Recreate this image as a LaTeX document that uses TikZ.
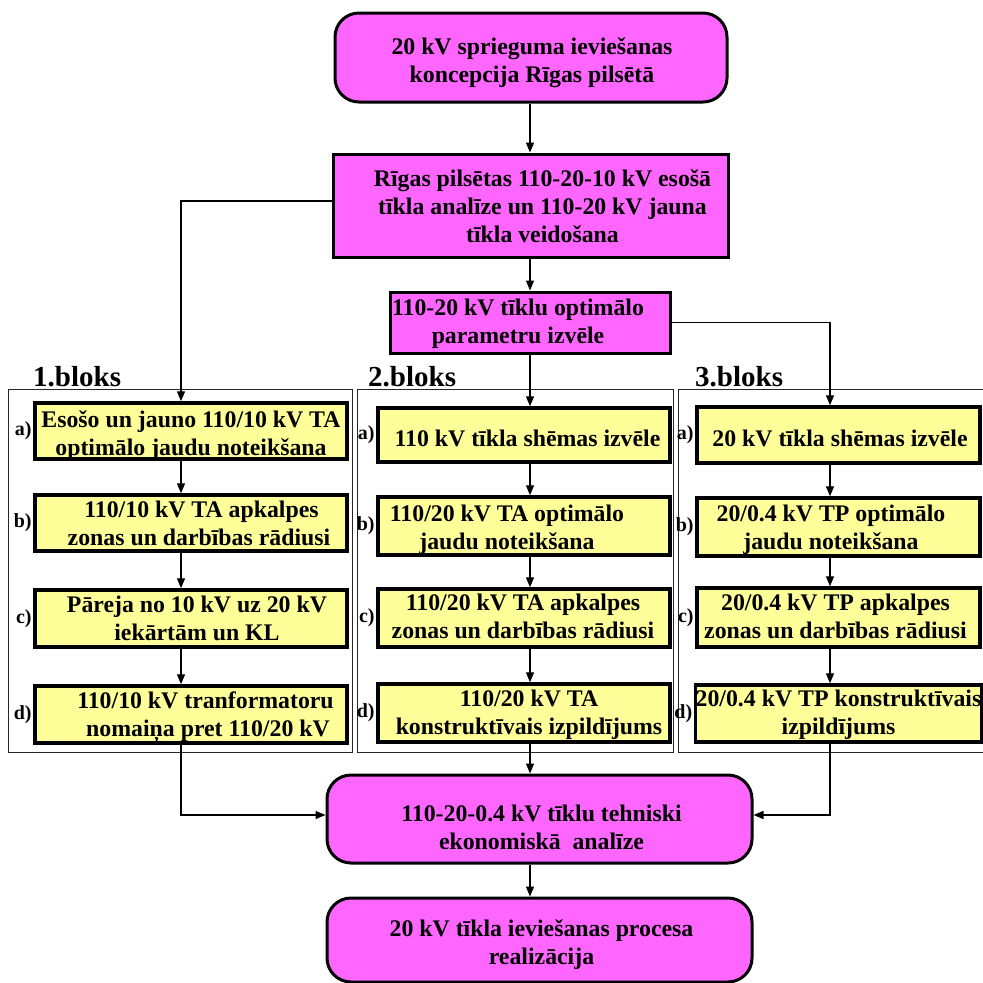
\documentclass[tikz,border=0pt]{standalone}
\usepackage{fontspec}
\setmainfont{Liberation Serif}
\usetikzlibrary{arrows.meta}
\definecolor{mag}{RGB}{255,102,255}
\definecolor{yel}{RGB}{255,255,153}
% text block: #1 = lower by, #2 = shift right by, #3 = lines
\newcommand\tx[3]{\raisebox{-#1}[\height][\depth]{\hspace*{#2}\begin{tabular}{@{}c@{}}#3\end{tabular}\hspace*{-#2}}}
\begin{document}
\begin{tikzpicture}[x=1pt,y=-1pt,
  boxtext/.style={font=\fontsize{23.8}{28}\selectfont\bfseries, inner sep=0pt},
  magbox/.style={boxtext, draw=black, line width=3pt, fill=mag},
  magrnd/.style={magbox, rounded corners=24pt},
  yelbox/.style={boxtext, draw=black, line width=3.5pt, fill=yel},
  frame/.style={draw=black!85, line width=0.9pt},
  arr/.style={-{Triangle[length=10pt,width=8pt]}, line width=1.4pt},
  lab/.style={font=\fontsize{20}{20}\selectfont\bfseries, inner sep=0pt, anchor=east},
  blk/.style={font=\fontsize{29}{29}\selectfont\bfseries, anchor=base west, inner sep=0pt}
]
\useasboundingbox (0,0) rectangle (983,983);

% column coordinates
\coordinate (x1) at (181,0);
\coordinate (x2) at (530,0);
\coordinate (x3) at (830,0);

% block frames
\draw[frame] (8,389) rectangle (352,752);
\draw[frame] (357,389) rectangle (673,752);
\draw[frame] (678,389) rectangle (995,752);
\node[blk] (h1) at (33,386) {1.bloks};
\node[blk] (h2) at (368,386) {2.bloks};
\node[blk] (h3) at (695,386) {3.bloks};

% main boxes
\node[magrnd, minimum width=392pt, minimum height=89pt] (top) at (531,57.5)
  {\tx{5.5pt}{1pt}{20 kV sprieguma ieviešanas\\koncepcija Rīgas pilsētā}};
\node[magbox, minimum width=395pt, minimum height=103pt] (ana) at (530.5,205.5)
  {\tx{3.5pt}{12pt}{Rīgas pilsētas 110-20-10 kV esošā\\tīkla analīze un 110-20 kV jauna\\tīkla veidošana}};
\node[magbox, minimum width=280pt, minimum height=61pt] (opt) at (530,322.5)
  {\tx{1pt}{-12pt}{110-20 kV tīklu optimālo\\parametru izvēle}};

% block 1
\node[yelbox, minimum width=312pt, minimum height=56pt] (b1a) at (191,431)
  {\tx{5pt}{0pt}{Esošo un jauno 110/10 kV TA\\optimālo jaudu noteikšana}};
\node[yelbox, minimum width=312pt, minimum height=56pt] (b1b) at (191,523)
  {\tx{2.5pt}{8pt}{\hspace*{5pt}110/10 kV TA apkalpes\\zonas un darbības rādiusi}};
\node[yelbox, minimum width=312pt, minimum height=57pt] (b1c) at (191,618.5)
  {\tx{2pt}{6pt}{Pāreja no 10 kV uz 20 kV\\iekārtām un KL}};
\node[yelbox, minimum width=312pt, minimum height=57pt] (b1d) at (191,714.5)
  {\tx{2.5pt}{17pt}{110/10 kV tranformatoru\hspace*{5pt}\\nomaiņa pret 110/20 kV}};

% block 2
\node[yelbox, minimum width=292pt, minimum height=54pt] (b2a) at (524,435)
  {\tx{5.5pt}{3.5pt}{110 kV tīkla shēmas izvēle}};
\node[yelbox, minimum width=292pt, minimum height=58pt] (b2b) at (524,526)
  {\tx{3.5pt}{-17pt}{110/20 kV TA optimālo\\jaudu noteikšana}};
\node[yelbox, minimum width=292pt, minimum height=58pt] (b2c) at (524,618)
  {\tx{0.5pt}{-1pt}{110/20 kV TA apkalpes\\zonas un darbības rādiusi}};
\node[yelbox, minimum width=292pt, minimum height=58pt] (b2d) at (524,713)
  {\tx{2pt}{5pt}{110/20 kV TA\\konstruktīvais izpildījums}};

% block 3
\node[yelbox, minimum width=283pt, minimum height=56pt] (b3a) at (838.5,435)
  {\tx{5.5pt}{1.5pt}{20 kV tīkla shēmas izvēle}};
\node[yelbox, minimum width=283pt, minimum height=58pt] (b3b) at (838.5,527)
  {\tx{3pt}{-7.5pt}{20/0.4 kV TP optimālo\\jaudu noteikšana}};
\node[yelbox, minimum width=283pt, minimum height=59pt] (b3c) at (838.5,617.5)
  {\tx{1pt}{-3pt}{20/0.4 kV TP apkalpes\\zonas un darbības rādiusi}};
\node[yelbox, minimum width=283pt, minimum height=57pt] (b3d) at (838.5,713.5)
  {\tx{1.5pt}{0pt}{20/0.4 kV TP konstruktīvais\\izpildījums}};

% labels
\foreach \b in {1,2,3}{
  \node[lab] (l\b a) at ([xshift=-1.5pt]b\b a.west) {a)};
  \node[lab] (l\b b) at ([xshift=-1.5pt]b\b b.west) {b)};
  \node[lab] (l\b c) at ([xshift=-1.5pt]b\b c.west) {c)};
  \node[lab] (l\b d) at ([xshift=-1.5pt]b\b d.west) {d)};
}

% bottom boxes
\node[magrnd, minimum width=425pt, minimum height=88pt] (tech) at (539.5,819)
  {\tx{11pt}{2pt}{110-20-0.4 kV tīklu tehniski\\ekonomiskā~ analīze}};
\node[magrnd, minimum width=425pt, minimum height=84pt] (real) at (539.5,940)
  {\tx{5pt}{2pt}{20 kV tīkla ieviešanas procesa\\realizācija}};

% connectors
\draw[arr] (x2 |- top.south) -- (x2 |- ana.north);
\draw[arr] (x2 |- ana.south) -- (x2 |- opt.north);
\draw[arr] ([yshift=4.5pt]ana.west) -| (x1 |- b1a.north);
\draw[arr] (opt.east) -| (x3 |- b3a.north);
\draw[arr] (x2 |- opt.south) -- (x2 |- b2a.north);

\draw[arr] (x1 |- b1a.south) -- (x1 |- b1b.north);
\draw[arr] (x1 |- b1b.south) -- (x1 |- b1c.north);
\draw[arr] (x1 |- b1c.south) -- (x1 |- b1d.north);
\draw[arr] (x2 |- b2a.south) -- (x2 |- b2b.north);
\draw[arr] (x2 |- b2b.south) -- (x2 |- b2c.north);
\draw[arr] (x2 |- b2c.south) -- (x2 |- b2d.north);
\draw[arr] (x3 |- b3a.south) -- (x3 |- b3b.north);
\draw[arr] (x3 |- b3b.south) -- (x3 |- b3c.north);
\draw[arr] (x3 |- b3c.south) -- (x3 |- b3d.north);

\draw[arr] (x1 |- b1d.south) |- ([yshift=4pt]tech.west);
\draw[arr] (x3 |- b3d.south) |- ([yshift=4pt]tech.east);
\draw[arr] (x2 |- b2d.south) -- (x2 |- tech.north);
\draw[arr] (x2 |- tech.south) -- (x2 |- real.north);
\end{tikzpicture}
\end{document}
